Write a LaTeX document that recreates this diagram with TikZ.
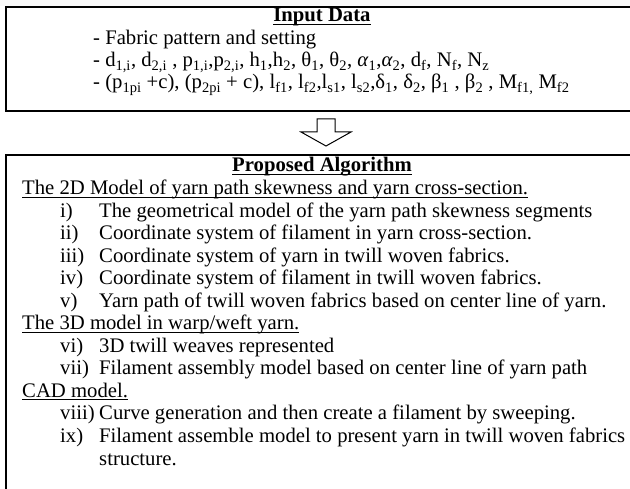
\documentclass[tikz,border=0pt]{standalone}
\usepackage{fontspec}
\setmainfont{Liberation Serif}
\usetikzlibrary{calc}

% underline at a fixed depth, as in the word processor
\newcommand\uln[1]{\sbox0{#1}\rlap{\rule[-2.8pt]{\wd0}{0.9pt}}\usebox0}

\begin{document}
\begin{tikzpicture}[x=1pt,y=-1pt]
  \tikzset{
    frame/.style = {draw, line width=1.2pt, minimum width=640pt, anchor=north west, inner sep=0pt, outer sep=0pt},
    txt/.style   = {anchor=base west, inner sep=0pt, font=\fontsize{20.7}{22}\selectfont},
    head/.style  = {anchor=base, inner sep=0pt, font=\fontsize{20.7}{22}\selectfont\bfseries},
    flowarrow/.style = {draw, line width=1pt, fill=white, line join=miter}
  }
  \useasboundingbox (0,0) rectangle (630,489);
  \clip (0,0) rectangle (630,489);
  \fill[gray!5] (0,0) rectangle (630,6);

  % --- Input data box ---
  \node[frame, minimum height=104pt] (input) at (6,7) {};
  \draw[line width=2.6pt] (input.north west) -- (input.south west);
  \node[head] (inhead) at (322,22) {\uln{Input Data}};
  \node[txt] (in1) at (93,45) {- Fabric pattern and setting};
  \node[txt] (in2) at (93,67) {- d\textsubscript{1,i}, d\textsubscript{2,i} , p\textsubscript{1,i},p\textsubscript{2,i}, h\textsubscript{1},h\textsubscript{2}, θ\textsubscript{1}, θ\textsubscript{2}, \textit{α}\textsubscript{1},\textit{α}\textsubscript{2}, d\textsubscript{f}, N\textsubscript{f}, N\textsubscript{z}};
  \node[txt] (in3) at (93,89) {- (p\textsubscript{1pi} +c), (p\textsubscript{2pi} + c), l\textsubscript{f1}, l\textsubscript{f2},l\textsubscript{s1}, l\textsubscript{s2},δ\textsubscript{1}, δ\textsubscript{2}, β\textsubscript{1} , β\textsubscript{2} , M\textsubscript{f1,} M\textsubscript{f2}};

  % --- Proposed algorithm box ---
  \node[frame, minimum height=340pt] (algo) at (6,155) {};
  \draw[line width=2.6pt] (algo.north west) -- (algo.south west);

  % block arrow between the two boxes
  \coordinate (flow) at ($(input.south)!0.5!(algo.north)$);
  \draw[flowarrow] ($(flow)+(-9,-14)$) -- ++(18,0) -- ++(0,13) -- ++(16,0)
    -- ($(flow)+(0,13)$) -- ($(flow)+(-25,-1)$) -- ++(16,0) -- cycle;

  \node[head] (alhead) at (322,172) {\uln{Proposed Algorithm}};

  % section headings
  \node[txt] (sec2d) at (22,195) {\uln{The 2D Model of yarn path skewness and yarn cross-section.}};
  \node[txt] (sec3d) at (22,330) {\uln{The 3D model in warp/weft yarn.}};
  \node[txt] (seccad) at (22,397.5) {\uln{CAD model.}};

  % numbered steps
  \foreach \lab/\txt/\yy [count=\n] in {
      i)/{The geometrical model of the yarn path skewness segments}/217.5,
      ii)/{Coordinate system of filament in yarn cross-section.}/240,
      iii)/{Coordinate system of yarn in twill woven fabrics.}/262.5,
      iv)/{Coordinate system of filament in twill woven fabrics.}/285,
      v)/{Yarn path of twill woven fabrics based on center line of yarn.}/307.5,
      vi)/{3D twill weaves represented}/352.5,
      vii)/{Filament assembly model based on center line of yarn path}/375,
      viii)/{Curve generation and then create a filament by sweeping.}/420,
      ix)/{Filament assemble model to present yarn in twill woven fabrics}/442.5} {
    \node[txt] (lab\n) at (60,\yy) {\lab};
    \node[txt] (step\n) at (99,\yy) {\txt};
  }
  \node[txt] (step9b) at (99,465) {structure.};
\end{tikzpicture}
\end{document}
